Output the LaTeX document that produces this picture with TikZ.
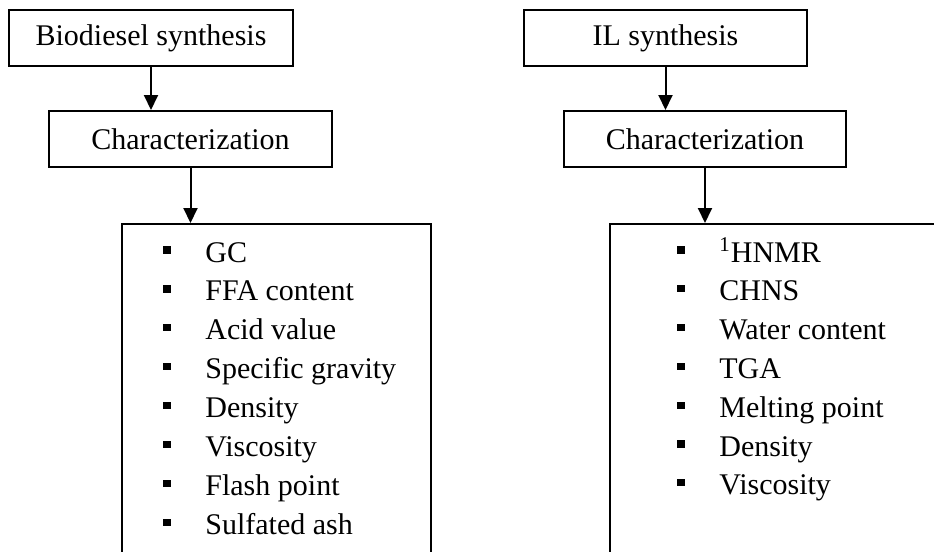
\documentclass[tikz,border=0pt]{standalone}
\usepackage{fontspec}
\setmainfont{Liberation Serif}
\usetikzlibrary{arrows.meta,positioning}

\tikzset{
  stepbox/.style={draw, line width=1pt, rectangle, minimum height=28pt, inner sep=0pt,
    font=\fontsize{15}{18}\selectfont},
  listbox/.style={draw, line width=1pt, rectangle, inner sep=0pt, anchor=north west},
  bullet/.style={fill=black, rectangle, minimum size=3.6pt, inner sep=0pt},
  item/.style={anchor=base west, inner sep=0pt, font=\fontsize{15}{18}\selectfont},
  flow/.style={line width=1pt, -{Triangle[width=7pt,length=7.5pt]}}
}

\begin{document}
\begin{tikzpicture}[x=0.5pt,y=-0.5pt]
  \useasboundingbox (0,0) rectangle (934,552);
  \clip (0,0) rectangle (934,552);

  % biodiesel branch
  \node[stepbox, minimum width=142pt]   (bio)   at (151,38)    {Biodiesel synthesis};
  \node[stepbox, minimum width=141.5pt] (bchar) at (190.5,139) {Characterization};
  \node[listbox, minimum width=154.5pt, minimum height=180pt] (blist) at (121,223) {};

  \foreach \txt [count=\i from 0] in {GC, FFA content, Acid value, Specific gravity,
      Density, Viscosity, Flash point, Sulfated ash}
  {
    \node[bullet] (bb\i) at (167,250+38.9*\i) {};
    \node[item]   (bt\i) at (205,262+38.9*\i) {\txt};
  }

  % ionic liquid branch
  \node[stepbox, minimum width=141.5pt] (il)    at (665.5,38) {IL synthesis};
  \node[stepbox, minimum width=141pt]   (ichar) at (705,139)   {Characterization};
  \node[listbox, minimum width=175pt, minimum height=180pt] (ilist) at (609,223) {};

  \foreach \txt [count=\i from 0] in {\textsuperscript{1}HNMR, CHNS, Water content, TGA,
      Melting point, Density, Viscosity}
  {
    \node[bullet] (ib\i) at (681,250+38.8*\i) {};
    \node[item]   (it\i) at (719,262+38.8*\i) {\txt};
  }

  % arrows
  \draw[flow] (bio.south)   -- (bio.south |- bchar.north);
  \draw[flow] (bchar.south) -- (bchar.south |- blist.north);
  \draw[flow] (il.south)    -- (il.south |- ichar.north);
  \draw[flow] (ichar.south) -- (ichar.south |- ilist.north);

\end{tikzpicture}
\end{document}
